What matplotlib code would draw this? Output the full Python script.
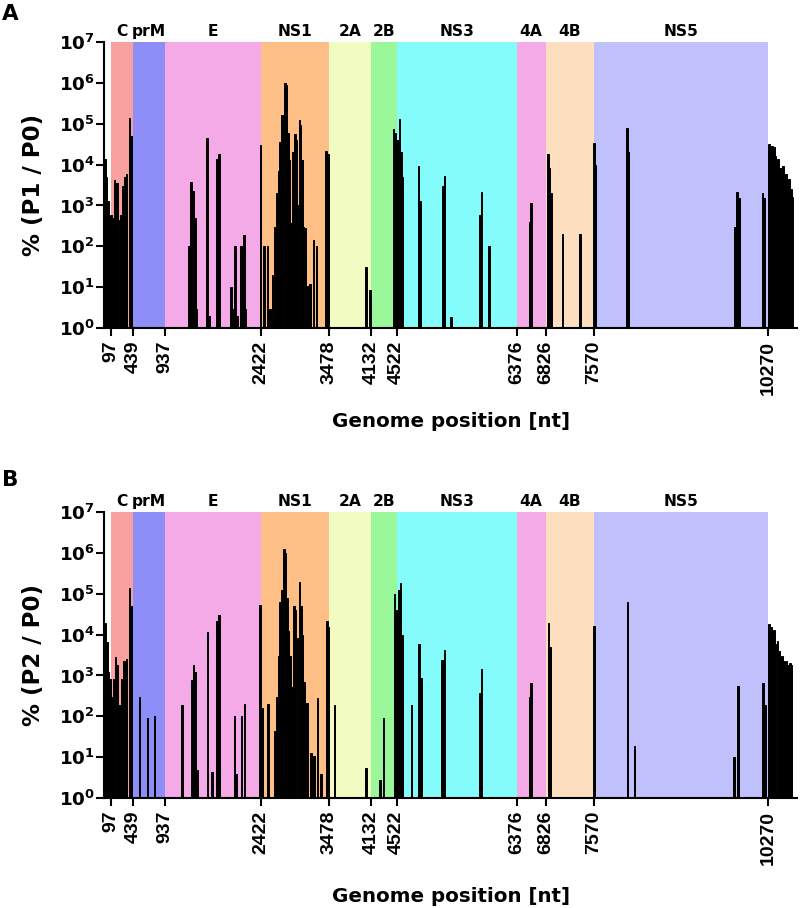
import matplotlib
matplotlib.use('Agg')
import matplotlib.pyplot as plt
from matplotlib.ticker import NullLocator
from matplotlib.transforms import blended_transform_factory, offset_copy

plt.rcParams['mathtext.fontset'] = 'dejavusans'

# ---------------- data ----------------
gene_names = ['C', 'prM', 'E', 'NS1', '2A', '2B', 'NS3', '4A', '4B', 'NS5']
gene_bounds = [97, 439, 937, 2422, 3478, 4132, 4522, 6376, 6826, 7570, 10270]
gene_colors = ['#F9A1A1', '#8E8EF8', '#F4AAE6', '#FDBF85', '#F2FCC2',
               '#9AF89A', '#84FCFC', '#F4AAE6', '#FDDFC0', '#C0C0FC']
x_ticks = [97, 439, 937, 2422, 3478, 4132, 4522, 6376, 6826, 7570, 10270]
y_ticks = [1e0, 1e1, 1e2, 1e3, 1e4, 1e5, 1e6, 1e7]
y_tick_labels = [r'$\mathbf{10^{%d}}$' % k for k in range(8)]

p1_pos = [10, 30, 55, 80,
          105, 130, 155, 180, 205, 235, 260, 290, 320, 345, 385, 410,
          1305, 1340, 1370, 1400, 1425,
          1590, 1620,
          1740, 1770,
          1955, 1990, 2020, 2050, 2115, 2160, 2185,
          2415, 2470, 2525, 2565, 2600, 2640, 2670,
          2695, 2720, 2750, 2790, 2815, 2840, 2865, 2890, 2920, 2945, 2965, 2990,
          3015, 3035, 3055, 3080, 3110, 3150, 3180, 3235, 3280, 3430, 3455,
          4050, 4110,
          4470, 4500, 4530, 4565, 4590, 4610,
          4860, 4885,
          5240, 5265, 5360,
          5815, 5835, 5950,
          6585, 6600,
          6865, 6885, 6905,
          7085, 7355, 7575, 7600,
          8085, 8105,
          9745, 9790, 9815,
          10180, 10205,
          10280, 10305, 10330, 10355, 10380, 10405, 10425, 10450, 10475, 10500,
          10525, 10545, 10570, 10595, 10620, 10640]
p1_val = [14000, 5000, 1300, 500,
          600, 500, 4300, 3600, 3500, 450, 600, 3000, 5000, 6000, 140000, 50000,
          100, 3700, 2300, 500, 3,
          44000, 2,
          14000, 18000,
          10, 3, 100, 2, 100, 190, 3,
          30000, 100, 100, 3, 20, 300, 2000,
          7000, 35000, 160000, 1000000, 900000, 60000, 13000, 370, 20000, 57000, 40000, 1000,
          120000, 90000, 13000, 300, 280, 11, 12, 140, 100, 22000, 18000,
          31, 8.6,
          75000, 60000, 40000, 130000, 20000, 5000,
          9000, 1300,
          3000, 5200, 1.9,
          580, 2100, 100,
          400, 1150,
          18000, 8000, 2000,
          200, 200, 34000, 10000,
          76000, 20000,
          300, 2100, 1500,
          2000, 1500,
          31000, 20000, 28000, 27000, 16000, 12000, 14000, 8000, 5000, 9000,
          4000, 6000, 3000, 4500, 2500, 1600]

p2_pos = [15, 40, 65, 85,
          115, 140, 170, 195, 230, 265, 305, 345, 385, 410,
          540, 670, 775,
          1200, 1345, 1380, 1405, 1430,
          1595, 1665, 1740, 1770,
          2010, 2040, 2120, 2170,
          2410, 2445, 2530, 2640, 2670,
          2695, 2720, 2745, 2775, 2800, 2825, 2850, 2875, 2905, 2935, 2955, 2985,
          3015, 3040, 3060, 3085, 3135, 3200, 3245, 3300, 3350, 3440, 3465,
          3560, 4045, 4260, 4315,
          4490, 4525, 4555, 4580, 4600,
          4750, 4870, 4895,
          5225, 5265,
          5810, 5835,
          6585, 6600,
          6870, 6895,
          7575,
          8090, 8200,
          9740, 9805,
          10185, 10230,
          10285, 10310, 10335, 10360, 10385, 10410, 10435, 10460, 10485, 10510,
          10535, 10555, 10580, 10605, 10630]
p2_val = [19000, 6500, 1200, 800,
          300, 800, 2900, 1800, 190, 800, 2200, 2500, 140000, 50000,
          300, 93, 100,
          190, 780, 1800, 1200, 5,
          11500, 4.5, 22000, 30000,
          100, 4, 100, 200,
          53000, 160, 200, 45, 300,
          3000, 63000, 120000, 1200000, 1000000, 80000, 12000, 3000, 530, 50000, 40000, 8000,
          190000, 50000, 10000, 700, 210, 13, 11, 280, 4, 22000, 15000,
          190, 5.5, 2.8, 93,
          98000, 40000, 120000, 180000, 10000,
          190, 5900, 850,
          2400, 4200,
          370, 1400,
          300, 660,
          19000, 5000,
          16000,
          63000, 19,
          10, 550,
          660, 190,
          18000, 15000, 10000, 13000, 6000, 7000, 4000, 2400, 3000, 2200,
          1500, 2200, 1800, 2000, 1800]

# ---------------- layout ----------------
W, H = 800, 908
fig = plt.figure(figsize=(W / 100, H / 100), dpi=100)

HFONT = 'DejaVu Sans'
TFONT = 'Liberation Sans'


def panel(top_px, bottom_px, pos, val, ylabel, letter, letter_top_px, xlabel_base_px):
    left_px, right_px = 104.4, 797.0
    ax = fig.add_axes([left_px / W, 1 - bottom_px / H,
                       (right_px - left_px) / W, (bottom_px - top_px) / H])
    for a, b, c in zip(gene_bounds[:-1], gene_bounds[1:], gene_colors):
        ax.axvspan(a, b, color=c, lw=0, zorder=0)
    heights = [v - 1 for v in val]
    ax.bar(pos, heights, bottom=1, width=24, color='black', edgecolor='black',
           linewidth=0.7, zorder=2)
    ax.set_yscale('log')
    ax.set_ylim(1, 1e7)
    ax.set_xlim(0, 10715)
    ax.yaxis.set_minor_locator(NullLocator())
    ax.set_yticks(y_ticks)
    ax.set_yticklabels(y_tick_labels, fontsize=13.2)
    ax.set_xticks(x_ticks)
    ax.set_xticklabels([str(t) for t in x_ticks], rotation=90,
                       fontfamily=TFONT, fontweight='bold', fontsize=14)
    ax.tick_params(axis='both', which='major', length=6, width=1.5,
                   color='black', direction='out')
    ax.tick_params(axis='y', pad=1)
    ax.tick_params(axis='x', pad=3)
    for s in ['top', 'right']:
        ax.spines[s].set_visible(False)
    for s in ['left', 'bottom']:
        ax.spines[s].set_linewidth(1.5)
        ax.spines[s].set_zorder(5)
    ax_h = bottom_px - top_px
    ax_w = right_px - left_px
    ax.set_ylabel(ylabel, fontfamily=HFONT, fontweight='bold', fontsize=16.5,
                  va='center')
    ax.yaxis.set_label_coords((34 - left_px) / ax_w, 0.5)
    ax.set_xlabel('Genome position [nt]', fontfamily=HFONT, fontweight='bold',
                  fontsize=14.3, va='baseline')
    ax.xaxis.set_label_coords(0.5, -(xlabel_base_px - bottom_px) / ax_h)
    trans = blended_transform_factory(ax.transData, ax.transAxes)
    trans = offset_copy(trans, fig=fig, x=0, y=6, units='dots')
    for a, b, name in zip(gene_bounds[:-1], gene_bounds[1:], gene_names):
        ax.text((a + b) / 2, 1.0, name, transform=trans, ha='center',
                va='baseline', fontfamily=HFONT, fontweight='bold', fontsize=11.2)
    fig.text(2 / W, 1 - letter_top_px / H, letter, fontfamily=HFONT,
             fontweight='bold', fontsize=15.5, ha='left', va='top')
    return ax


panel(41.7, 328.3, p1_pos, p1_val, '% (P1 / P0)', 'A', 4.0, 426.7)
panel(511.7, 798.3, p2_pos, p2_val, '% (P2 / P0)', 'B', 470.5, 901.7)

fig.savefig('out.png', dpi=100)
